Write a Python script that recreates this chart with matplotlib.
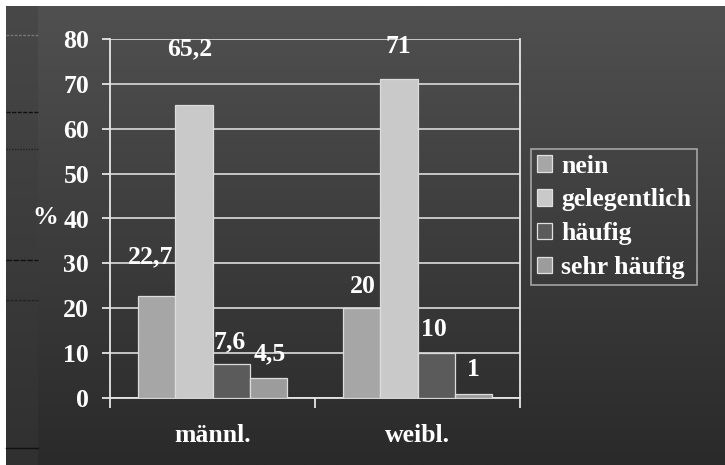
import numpy as np
import matplotlib
matplotlib.use("Agg")
import matplotlib.pyplot as plt

# data
categories = ["männl.", "weibl."]
series_names = ["nein", "gelegentlich", "häufig", "sehr häufig"]
nein = [22.7, 20]
gelegentlich = [65.2, 71]
haeufig = [7.6, 10]
sehr_haeufig = [4.5, 1]
value_labels = [["22,7", "20"], ["65,2", "71"], ["7,6", "10"], ["4,5", "1"]]
y_ticks = [0, 10, 20, 30, 40, 50, 60, 70, 80]

# styling
colors = ["#a6a6a6", "#c9c9c9", "#5b5b5b", "#9c9c9c"]
label_offsets = [[28, 16], [41, 24], [16, 17], [17, 17]]  # points above bar top
label_dx = [[-4, 1], [-3, 0], [-1, -2], [1, 0]]

plt.rcParams["font.family"] = ["Liberation Serif", "DejaVu Serif"]
plt.rcParams["font.weight"] = "bold"
FS = 18.5

fig = plt.figure(figsize=(7.25, 4.65), dpi=100)

# slide background: dark vertical gradient with white top/left edge
bg = fig.add_axes([0, 0, 1, 1], zorder=-10)
bg.set_xlim(0, 725)
bg.set_ylim(465, 0)
bg.axis("off")
grad = np.linspace(0, 1, 256).reshape(-1, 1)
top_c = np.array([0x50, 0x50, 0x50]) / 255
bot_c = np.array([0x2a, 0x2a, 0x2a]) / 255
img = top_c + (bot_c - top_c) * grad
bg.imshow(img.reshape(256, 1, 3), extent=[6, 725, 465, 7], aspect="auto")
s_top = np.array([0x48, 0x48, 0x48]) / 255
s_bot = np.array([0x30, 0x30, 0x30]) / 255
strip = s_top + (s_bot - s_top) * grad
bg.imshow(strip.reshape(256, 1, 3), extent=[6, 38, 465, 7], aspect="auto")
for yy, ls, c in [(35, (0, (2, 1)), "#777777"), (112, (0, (3, 1)), "#111111"),
                  (149, (0, (1, 1)), "#222222"), (260, (0, (4, 1)), "#111111"),
                  (300, (0, (2, 1)), "#222222"), (448, "-", "#111111")]:
    bg.plot([6, 38], [yy, yy], color=c, lw=1, ls=ls)

ax = fig.add_axes([110 / 725, 1 - 398 / 465, 410 / 725, 359 / 465])
ax.set_facecolor("none")

x = np.arange(len(categories))
w = 0.182
all_series = [nein, gelegentlich, haeufig, sehr_haeufig]
for i, (vals, name) in enumerate(zip(all_series, series_names)):
    xs = x + (i - 1.5) * w
    ax.bar(xs, vals, width=w, color=colors[i], edgecolor="#dcdcdc",
           linewidth=0.9, label=name, zorder=3)
    for j, v in enumerate(vals):
        ax.annotate(value_labels[i][j], (xs[j], v),
                    xytext=(label_dx[i][j], label_offsets[i][j]),
                    textcoords="offset points", ha="center", va="center",
                    color="white", fontsize=FS, fontweight="bold", zorder=4)

ax.set_xlim(-0.5, 1.5)
ax.set_ylim(0, 80)
ax.set_yticks(y_ticks)
ax.set_yticklabels([str(t) for t in y_ticks])
ax.set_xticks(x)
ax.set_xticklabels(categories)
ax.set_xticks([-0.5, 0.5, 1.5], minor=True)

ax.yaxis.grid(True, color="#d0d0d0", lw=1.3, zorder=1)
ax.set_axisbelow(True)
for s in ["left", "bottom", "right"]:
    ax.spines[s].set_color("#e6e6e6")
    ax.spines[s].set_linewidth(1.3)
ax.spines["top"].set_visible(False)

ax.tick_params(axis="y", colors="#e6e6e6", labelcolor="white", length=6,
               width=1.3, pad=9, labelsize=FS)
ax.tick_params(axis="x", which="major", length=0, pad=19, labelcolor="white",
               labelsize=FS)
ax.tick_params(axis="x", which="minor", length=7, width=1.3, colors="#e6e6e6")

fig.text(45 / 725, 1 - 218 / 465, "%", color="white", fontsize=FS,
         fontweight="bold", ha="center", va="center")

leg = ax.legend(loc="upper left", bbox_to_anchor=(531 / 725, 1 - 149 / 465),
                bbox_transform=fig.transFigure, borderaxespad=0,
                frameon=True, fancybox=False, handlelength=0.6,
                handleheight=0.6, handletextpad=0.35, labelspacing=0.42,
                borderpad=0.22, fontsize=FS)
leg.get_frame().set_facecolor("none")
leg.get_frame().set_edgecolor("#bdbdbd")
leg.get_frame().set_linewidth(1.2)
for t in leg.get_texts():
    t.set_color("white")
for h in leg.legend_handles:
    h.set_edgecolor("#e0e0e0")

fig.savefig("out.png", dpi=100, facecolor="white")
